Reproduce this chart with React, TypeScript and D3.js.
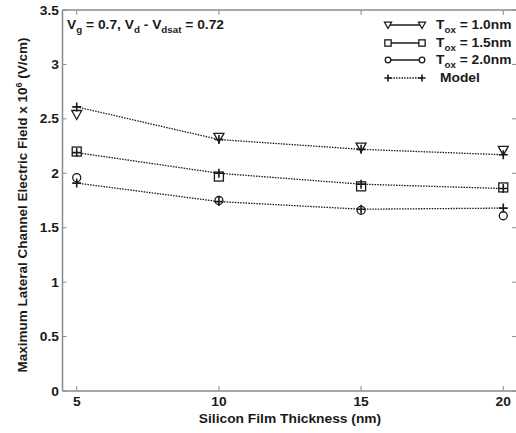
import React from 'react';
import * as d3 from 'd3';

// silicon film thickness (nm)
const thickness = [5, 10, 15, 20];

// simulated points, x 10^6 V/cm
const tox10 = [2.54, 2.33, 2.24, 2.21];
const tox15 = [2.20, 1.97, 1.88, 1.87];
const tox20 = [1.96, 1.75, 1.66, 1.61];

// model curves
const model10 = [2.61, 2.31, 2.22, 2.17];
const model15 = [2.19, 2.00, 1.90, 1.86];
const model20 = [1.91, 1.74, 1.67, 1.68];

const xTicks = [5, 10, 15, 20];
const yTicks = [0, 0.5, 1, 1.5, 2, 2.5, 3, 3.5];

const legendLabels = ['1.0nm', '1.5nm', '2.0nm'];

const W = 516;
const H = 433;
const FONT = 'Arial, "Liberation Sans", sans-serif';
const FS = 12;
const SX = 1.15; // the scanned figure is a bit wide

const x = d3.scaleLinear().domain([4.5, 20.5]).range([62.5, 517.5]);
const y = d3.scaleLinear().domain([0, 3.5]).range([391, 10]);

const ink = '#1a1a1a';
const axisGray = '#8a8a8a';

function Marker({ type, cx, cy, s = 1 }: { type: string; cx: number; cy: number; s?: number }) {
  const common = { fill: 'white', stroke: ink, strokeWidth: 1.3 };
  if (type === 'tri') {
    const p = d3.path();
    p.moveTo(cx - 5 * s, cy - 4 * s);
    p.lineTo(cx + 5 * s, cy - 4 * s);
    p.lineTo(cx, cy + 5 * s);
    p.closePath();
    return <path d={p.toString()} {...common} />;
  }
  if (type === 'sq') {
    return <rect x={cx - 4.5 * s} y={cy - 4.5 * s} width={9 * s} height={9 * s} {...common} />;
  }
  if (type === 'circ') {
    return <circle cx={cx} cy={cy} r={4 * s} {...common} />;
  }
  return (
    <path
      d={`M${cx - 4.5 * s},${cy}H${cx + 4.5 * s}M${cx},${cy - 4.5 * s}V${cy + 4.5 * s}`}
      stroke={ink}
      strokeWidth={1.6}
      fill="none"
    />
  );
}

function Label({ x0, y0, anchor = 'start', children }: any) {
  return (
    <text
      transform={`translate(${x0},${y0}) scale(${SX},1)`}
      textAnchor={anchor}
      fontSize={FS}
      fontWeight="bold"
      fill={ink}
    >
      {children}
    </text>
  );
}

export default function App() {
  const line = d3
    .line<number>()
    .x((_, i) => x(thickness[i]))
    .y((d) => y(d));

  const series = [
    { vals: tox10, type: 'tri' },
    { vals: tox15, type: 'sq' },
    { vals: tox20, type: 'circ' },
  ];
  const models = [model10, model15, model20];

  const legendY = [25, 43, 60];
  const x0 = x.range()[0];

  return (
    <svg
      width={W}
      height={H}
      style={{ position: 'absolute', left: 0, top: 0, background: 'white' }}
      fontFamily={FONT}
    >
      {/* frame */}
      <line x1={x0} x2={W} y1={y(3.5)} y2={y(3.5)} stroke={axisGray} strokeWidth={1.5} />
      <line x1={x0} x2={W} y1={y(0)} y2={y(0)} stroke={axisGray} strokeWidth={1.5} />
      <line x1={x0} x2={x0} y1={y(0)} y2={y(3.5)} stroke={axisGray} strokeWidth={1.5} />

      {/* x ticks */}
      {xTicks.map((t) => (
        <g key={t}>
          <line x1={x(t)} x2={x(t)} y1={y(0)} y2={y(0) - 5} stroke={axisGray} />
          <line x1={x(t)} x2={x(t)} y1={y(3.5)} y2={y(3.5) + 5} stroke={axisGray} />
          <Label x0={x(t)} y0={y(0) + 15} anchor="middle">{t}</Label>
        </g>
      ))}

      {/* y ticks */}
      {yTicks.map((t) => (
        <g key={t}>
          <line x1={x0} x2={x0 + 4} y1={y(t)} y2={y(t)} stroke={axisGray} />
          <line x1={W - 4} x2={W} y1={y(t)} y2={y(t)} stroke={axisGray} />
          <Label x0={59} y0={y(t) + 4.5} anchor="end">{t}</Label>
        </g>
      ))}

      {/* model curves */}
      {models.map((m, i) => (
        <path
          key={i}
          d={line(m) || ''}
          fill="none"
          stroke={ink}
          strokeWidth={1.3}
          strokeDasharray="1.5,1.2"
        />
      ))}

      {/* data markers */}
      {series.map((s) =>
        s.vals.map((v, i) => (
          <Marker key={s.type + i} type={s.type} cx={x(thickness[i])} cy={y(v)} />
        ))
      )}
      {models.map((m, k) =>
        m.map((v, i) => <Marker key={'m' + k + i} type="plus" cx={x(thickness[i])} cy={y(v)} />)
      )}

      {/* condition note */}
      <Label x0={67} y0={29}>
        V<tspan dy={4} fontSize={8.5}>g</tspan>
        <tspan dy={-4}> = 0.7, V</tspan>
        <tspan dy={4} fontSize={8.5}>d</tspan>
        <tspan dy={-4}> - V</tspan>
        <tspan dy={4} fontSize={8.5}>dsat</tspan>
        <tspan dy={-4}> = 0.72</tspan>
      </Label>

      {/* legend */}
      {series.map((s, i) => (
        <g key={'lg' + i}>
          <line x1={388} x2={422} y1={legendY[i]} y2={legendY[i]} stroke={ink} strokeWidth={1.5} />
          <Marker type={s.type} cx={388} cy={legendY[i]} s={0.7} />
          <Marker type={s.type} cx={422} cy={legendY[i]} s={0.7} />
          <Label x0={436} y0={legendY[i] + 4}>
            T<tspan dy={4} fontSize={8.5}>ox</tspan>
            <tspan dy={-4}> = {legendLabels[i]}</tspan>
          </Label>
        </g>
      ))}
      <g>
        <line x1={388} x2={422} y1={78} y2={78} stroke={ink} strokeWidth={1.3} strokeDasharray="1.5,1.2" />
        <Marker type="plus" cx={388} cy={78} s={0.8} />
        <Marker type="plus" cx={422} cy={78} s={0.8} />
        <Label x0={440} y0={82}>Model</Label>
      </g>

      {/* axis titles */}
      <Label x0={290} y0={423} anchor="middle">Silicon Film Thickness (nm)</Label>
      <text
        transform={`translate(27,205) rotate(-90)`}
        textAnchor="middle"
        fontSize={13.5}
        fontWeight="bold"
        fill={ink}
      >
        Maximum Lateral Channel Electric Field x 10
        <tspan dy={-5} fontSize={9}>6</tspan>
        <tspan dy={5}> (V/cm)</tspan>
      </text>
    </svg>
  );
}
